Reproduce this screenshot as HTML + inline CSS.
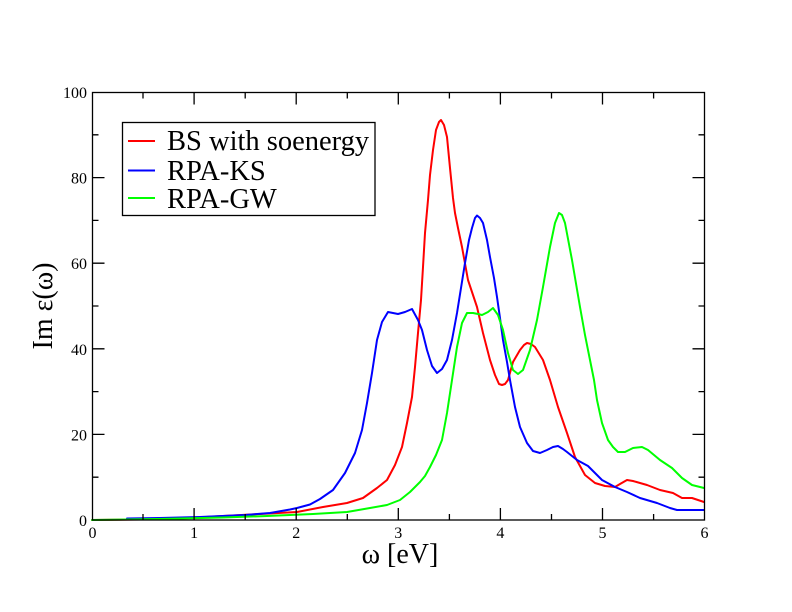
<!DOCTYPE html>
<html><head><meta charset="utf-8"><style>
html,body{margin:0;padding:0;background:#fff;}
svg{display:block;}
text{font-family:"Liberation Serif","DejaVu Serif",serif;fill:#000;}
</style></head><body>
<svg width="792" height="612" viewBox="0 0 792 612" xmlns="http://www.w3.org/2000/svg">
<rect x="0" y="0" width="792" height="612" fill="#fff"/>
<g fill="none" stroke-width="2" stroke-linejoin="round" stroke-linecap="round">
<polyline stroke="#ff0000" points="92,520 140,519.5 180,518.5 223,516 260,514 297,512 323,507 347,503 363,498 377,488 387,480 395,465 402,447 407,423 412,397 415,367 418,333 421,300 423,267 425,233 428,200 430,175 433,150 436,130 439,122 441,120 444,125 447,137 450,168 453,198 455,213 458,228 462,247 468,280 477,307 483,333 490,360 495,375 499,384 502,385 505,384 508,380 513,362 520,350 524,345 527,343 531,344 535,347 543,360 550,380 558,407 567,433 575,457 585,475 595,483 605,486 615,487 620,484 627,480 633,481 647,485 660,490 673,493 682,498 692,498 704,502"/>
<polyline stroke="#0000ff" points="127,518.5 160,518 200,517 245,515 270,513 290,509.5 297,508 310,504.5 320,499 333,490 345,473 355,453 362,430 367,403 372,373 377,340 382,322 388,312 393,313 398,314 405,312 412,309 418,320 422,330 427,350 432,366 437,373 442,369 447,360 452,340 457,313 461,288 465,263 469,240 472,228 475,218 477,215.5 480,218 483,223 487,240 490,257 494,278 497,297 500,318 503,340 507,362 510,380 515,407 520,427 527,443 533,451 540,453 547,450 553,447 558,446 563,449 567,452 577,460 588,466 602,480 615,487 627,492 640,498 657,503 670,508 677,510 704,510"/>
<polyline stroke="#00ff00" points="92,520 157,519 223,517.5 267,516 313,514 347,512 370,508 387,505 400,500 410,492 420,482 425,476 430,467 436,455 442,440 447,413 452,380 457,347 462,323 467,313 473,313 478,314 482,315 488,312 493,308 498,315 503,330 508,353 513,370 518,374 523,370 530,350 537,320 543,287 550,247 555,223 559,213 562,215 565,223 572,260 580,307 585,335 590,360 594,380 597,400 602,423 608,440 613,447 618,452 625,452 633,448 642,447 648,450 660,460 672,468 682,478 692,485 704,488"/>
</g>
<g stroke="#000" stroke-width="1.3" fill="none">
<rect x="92.5" y="92.5" width="612" height="427.5"/>
<path d="M194.1,520V508 M296.2,520V508 M398.3,520V508 M500.4,520V508 M602.5,520V508
M143,520V514 M245.2,520V514 M347.3,520V514 M449.4,520V514 M551.5,520V514 M653.6,520V514
M194.1,92.5V104.5 M296.2,92.5V104.5 M398.3,92.5V104.5 M500.4,92.5V104.5 M602.5,92.5V104.5
M143,92.5V98.5 M245.2,92.5V98.5 M347.3,92.5V98.5 M449.4,92.5V98.5 M551.5,92.5V98.5 M653.6,92.5V98.5"/>
<path d="M92.5,434.4H104.5 M92.5,348.8H104.5 M92.5,263.2H104.5 M92.5,177.6H104.5
M92.5,477.2H98.5 M92.5,391.6H98.5 M92.5,306H98.5 M92.5,220.4H98.5 M92.5,134.8H98.5
M704.5,434.4H692.5 M704.5,348.8H692.5 M704.5,263.2H692.5 M704.5,177.6H692.5
M704.5,477.2H698.5 M704.5,391.6H698.5 M704.5,306H698.5 M704.5,220.4H698.5 M704.5,134.8H698.5"/>
<rect x="122.5" y="122.5" width="252.5" height="93"/>
</g>
<g font-size="16" text-anchor="end">
<text x="87" y="526">0</text>
<text x="87" y="440.4">20</text>
<text x="87" y="354.8">40</text>
<text x="87" y="269.2">60</text>
<text x="87" y="183.6">80</text>
<text x="87" y="98">100</text>
</g>
<g font-size="16" text-anchor="middle">
<text x="92.5" y="538">0</text>
<text x="194.1" y="538">1</text>
<text x="296.2" y="538">2</text>
<text x="398.3" y="538">3</text>
<text x="500.4" y="538">4</text>
<text x="602.5" y="538">5</text>
<text x="704.5" y="538">6</text>
</g>
<text x="400" y="563" font-size="28" text-anchor="middle">ω [eV]</text>
<text transform="translate(52,306) rotate(-90)" font-size="28" text-anchor="middle">Im ε(ω)</text>
<g stroke-width="2">
<line x1="128" y1="141" x2="155" y2="141" stroke="#ff0000"/>
<line x1="128" y1="170.5" x2="155" y2="170.5" stroke="#0000ff"/>
<line x1="128" y1="198" x2="155" y2="198" stroke="#00ff00"/>
</g>
<g font-size="28.5">
<text x="167" y="150">BS with soenergy</text>
<text x="167" y="180">RPA-KS</text>
<text x="167" y="208">RPA-GW</text>
</g>
</svg>
</body></html>
